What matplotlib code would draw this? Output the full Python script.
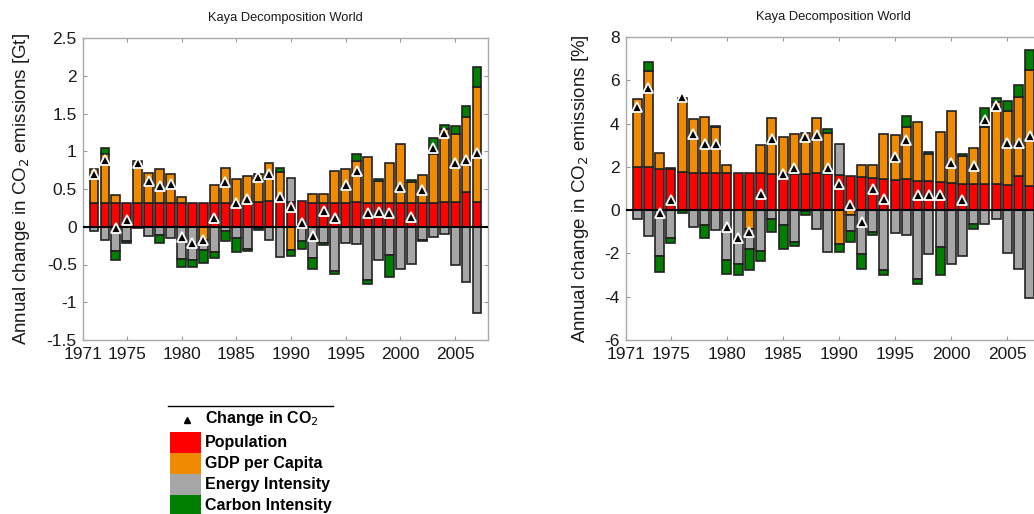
import numpy as np
import matplotlib
matplotlib.use("Agg")
import matplotlib.pyplot as plt
from matplotlib.patches import Rectangle
from matplotlib.lines import Line2D
from matplotlib.ticker import FuncFormatter

plt.rcParams['font.family'] = ['Liberation Sans', 'DejaVu Sans']

years = np.arange(1972, 2008)

# ---- Left panel: absolute change [Gt] ----
pop_gt = [0.31, 0.32, 0.31, 0.31, 0.31, 0.31, 0.32, 0.32, 0.32, 0.31, 0.31, 0.31,
          0.32, 0.32, 0.33, 0.33, 0.34, 0.34, 0.33, 0.34, 0.32, 0.32, 0.31, 0.32,
          0.33, 0.32, 0.32, 0.32, 0.31, 0.31, 0.32, 0.32, 0.33, 0.33, 0.46, 0.33]
gdp_gt = [0.45, 0.65, 0.11, 0.0, 0.56, 0.40, 0.44, 0.38, 0.07, 0.0, -0.18, 0.24,
          0.46, 0.31, 0.34, 0.37, 0.51, 0.38, -0.31, 0.0, 0.11, 0.12, 0.43, 0.45,
          0.54, 0.61, 0.28, 0.53, 0.78, 0.28, 0.37, 0.64, 0.97, 0.90, 0.99, 1.52]
energy_gt = [-0.06, -0.18, -0.32, -0.19, -0.02, -0.12, -0.11, -0.15, -0.43, -0.44, -0.13, -0.34,
             -0.06, -0.15, -0.29, -0.02, -0.17, -0.40, 0.31, -0.19, -0.42, -0.21, -0.59, -0.21,
             -0.23, -0.70, -0.44, -0.37, -0.56, -0.49, -0.17, -0.13, -0.09, -0.51, -0.73, -1.14]
carbon_gt = [0.0, 0.07, -0.12, -0.03, 0.0, 0.0, -0.11, 0.0, -0.10, -0.09, -0.17, -0.08,
             -0.13, -0.18, -0.03, -0.02, 0.0, 0.06, -0.08, -0.11, -0.14, -0.03, -0.04, 0.0,
             0.10, -0.06, 0.03, -0.30, 0.0, 0.03, -0.02, 0.22, 0.05, 0.11, 0.15, 0.27]
change_gt = [0.70, 0.88, -0.02, 0.09, 0.85, 0.61, 0.54, 0.56, -0.14, -0.22, -0.18, 0.12,
             0.59, 0.31, 0.37, 0.66, 0.70, 0.40, 0.26, 0.05, -0.12, 0.21, 0.11, 0.55,
             0.74, 0.18, 0.19, 0.18, 0.52, 0.13, 0.49, 1.04, 1.24, 0.84, 0.88, 0.98]

# ---- Right panel: relative change [%] ----
pop_pc = [2.01, 2.01, 1.89, 1.89, 1.78, 1.73, 1.73, 1.73, 1.73, 1.70, 1.70, 1.70,
          1.67, 1.67, 1.67, 1.67, 1.70, 1.67, 1.62, 1.59, 1.55, 1.47, 1.44, 1.39,
          1.42, 1.36, 1.34, 1.31, 1.24, 1.21, 1.21, 1.21, 1.21, 1.16, 1.59, 1.11]
gdp_pc = [3.14, 4.40, 0.77, 0.06, 3.40, 2.47, 2.57, 2.13, 0.36, 0.0, -0.85, 1.31,
          2.58, 1.73, 1.84, 1.88, 2.58, 1.88, -1.55, -0.23, 0.54, 0.62, 2.08, 2.09,
          2.44, 2.69, 1.26, 2.32, 3.35, 1.29, 1.65, 2.65, 3.77, 3.43, 3.66, 5.38]
energy_pc = [-0.42, -1.21, -2.12, -1.27, 0.0, -0.77, -0.70, -0.90, -2.32, -2.47, -0.93, -1.89,
             -0.39, -0.70, -1.47, -0.05, -0.87, -1.93, 1.42, -0.74, -2.01, -1.00, -2.78, -1.04,
             -1.16, -3.17, -2.04, -1.70, -2.50, -2.13, -0.62, -0.62, -0.43, -1.98, -2.70, -4.05]
carbon_pc = [0.0, 0.44, -0.74, -0.23, -0.15, 0.0, -0.61, 0.05, -0.62, -0.51, -0.97, -0.47,
             -0.61, -1.08, -0.20, -0.18, 0.0, 0.21, -0.38, -0.50, -0.69, -0.16, -0.23, 0.0,
             0.50, -0.26, 0.10, -1.28, 0.0, 0.10, -0.23, 0.85, 0.20, 0.43, 0.55, 0.93]
change_pc = [4.76, 5.64, -0.15, 0.46, 5.22, 3.52, 3.06, 3.06, -0.77, -1.31, -1.00, 0.74,
             3.28, 1.67, 1.93, 3.37, 3.46, 1.93, 1.21, 0.26, -0.57, 0.99, 0.51, 2.44,
             3.25, 0.70, 0.71, 0.71, 2.16, 0.49, 2.06, 4.17, 4.82, 3.12, 3.12, 3.43]

series_names = ["Population", "GDP per Capita", "Energy Intensity", "Carbon Intensity"]
colors = ["#ff0000", "#f08a00", "#a6a6a6", "#007f00"]
edge = "#222222"

W, H = 1034, 514
fig = plt.figure(figsize=(W / 100, H / 100), dpi=100)


def fx(px):
    return px / W


def fy(py):
    return 1 - py / H


def draw_panel(ax, comps, change, ylim, yticks, ylabel, label_x):
    pos_b = np.zeros(len(years))
    neg_b = np.zeros(len(years))
    for vals, c in zip(comps, colors):
        v = np.asarray(vals, dtype=float)
        bottom = np.where(v >= 0, pos_b, neg_b)
        m = v != 0
        ax.bar(years[m], v[m], bottom=bottom[m], width=0.8, color=c,
               edgecolor=edge, linewidth=1.2, zorder=2)
        pos_b = pos_b + np.where(v > 0, v, 0)
        neg_b = neg_b + np.where(v < 0, v, 0)
    ax.axhline(0, color="black", lw=1.5, zorder=3)
    ax.plot(years, change, linestyle="none", marker="^", ms=6.5,
            mfc="black", mec="white", mew=1.3, zorder=4)
    ax.set_xlim(1971, 2008)
    ax.set_ylim(*ylim)
    ax.set_xticks([1971, 1975, 1980, 1985, 1990, 1995, 2000, 2005])
    ax.set_yticks(yticks)
    ax.yaxis.set_major_formatter(FuncFormatter(lambda v, p: "%g" % v))
    ax.tick_params(direction="in", top=True, right=True, length=3,
                   color="#999999", labelsize=12.5, labelcolor="#1a1a1a")
    ax.tick_params(axis="x", pad=5)
    ax.tick_params(axis="y", pad=4.5)
    for s in ax.spines.values():
        s.set_color("#aaaaaa")
        s.set_linewidth(1.0)
    ax.set_title("Kaya Decomposition World", fontsize=9.3, pad=12, color="#1a1a1a")
    ax.set_ylabel(ylabel, fontsize=13.5, color="#1a1a1a")
    ax.yaxis.set_label_coords(label_x, 0.5)


ax1 = fig.add_axes([fx(83), fy(340), fx(488) - fx(83), fy(38) - fy(340)])
draw_panel(ax1, [pop_gt, gdp_gt, energy_gt, carbon_gt], change_gt,
           (-1.5, 2.5), [-1.5, -1, -0.5, 0, 0.5, 1, 1.5, 2, 2.5],
           "Annual change in CO$_2$ emissions [Gt]", -0.125)

ax2 = fig.add_axes([fx(626), fy(340), fx(1041) - fx(626), fy(37) - fy(340)])
draw_panel(ax2, [pop_pc, gdp_pc, energy_pc, carbon_pc], change_pc,
           (-6, 8), [-6, -4, -2, 0, 2, 4, 6, 8],
           "Annual change in CO$_2$ emissions [%]", -0.085)

# ---- Legend (drawn in figure coordinates) ----
fig.add_artist(Line2D([fx(168), fx(333)], [fy(406), fy(406)], color="black", lw=1.0))
fig.add_artist(Line2D([fx(187)], [fy(420)], marker="^", ms=5, color="black",
                      linestyle="none"))
fig.text(fx(205), fy(419), "Change in CO$_2$", fontsize=11.5, fontweight="bold",
         va="center", ha="left")
row_h = 21
for i, (name, c) in enumerate(zip(series_names, colors)):
    top = 432 + i * row_h
    fig.add_artist(Rectangle((fx(170), fy(top + row_h)), fx(31), row_h / H,
                             facecolor=c, edgecolor="none", transform=fig.transFigure))
    fig.text(fx(205), fy(top + row_h / 2), name, fontsize=11.5, fontweight="bold",
             va="center", ha="left")

fig.savefig("out.png", dpi=100)
